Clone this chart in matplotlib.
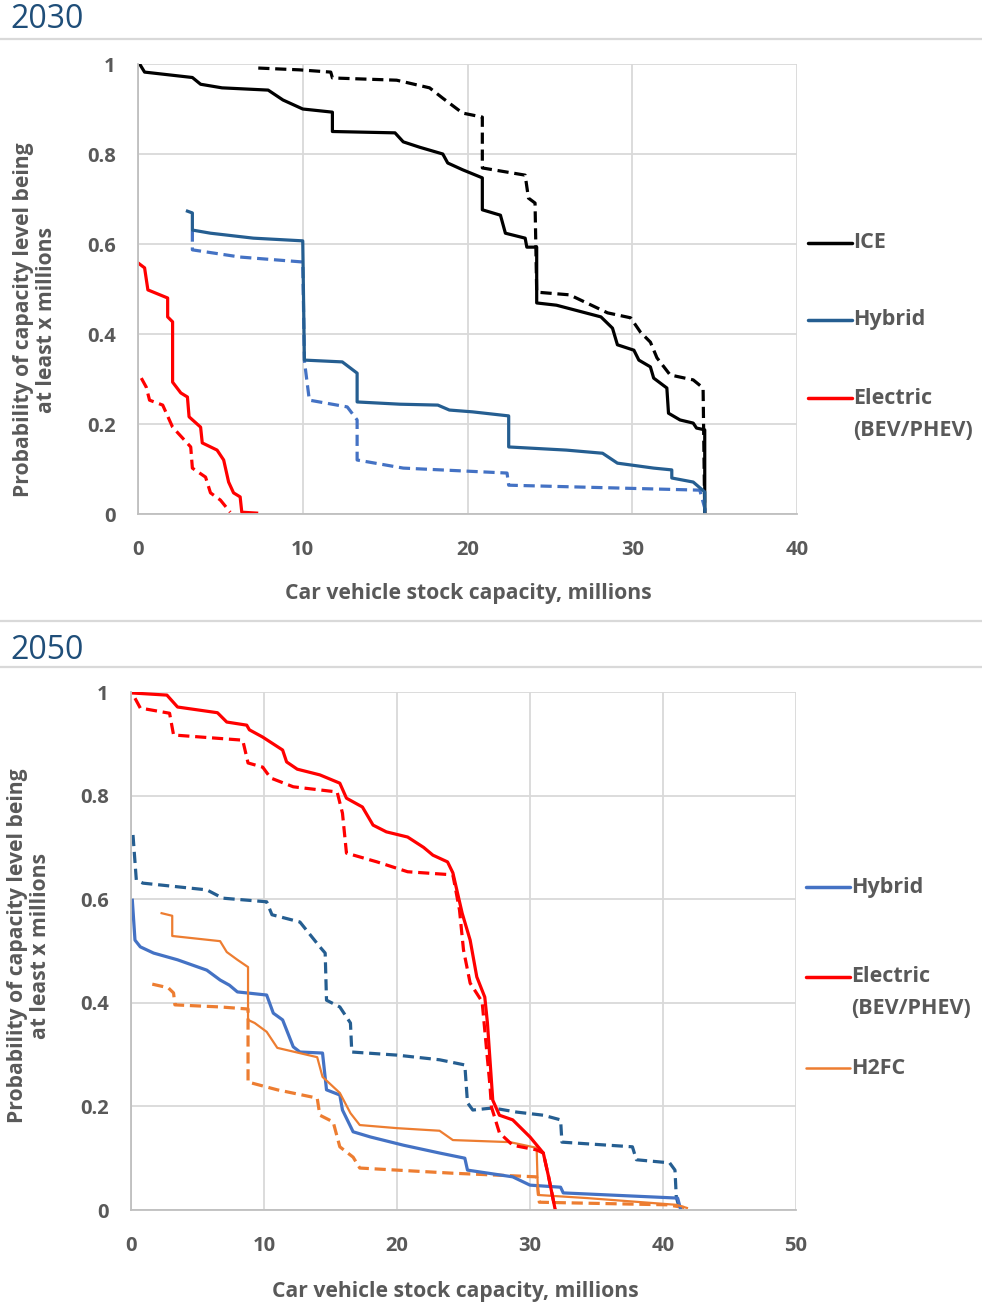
import matplotlib.pyplot as plt
from matplotlib.lines import Line2D

plt.rcParams['font.family'] = ['Open Sans', 'DejaVu Sans']

# ---- data (x in millions, y probability) ----
# 2030
ice_x = [0.1, 0.4, 3.3, 3.8, 5.1, 7.9, 8.8, 10.0, 11.8, 11.8, 15.6, 16.1, 17.1, 18.5, 18.8, 19.7, 20.9, 20.9,
         22.0, 22.3, 23.5, 23.6, 24.2, 24.2, 25.4, 28.1, 28.8, 29.1, 30.1, 30.4, 31.1, 31.3, 32.1, 32.2, 32.9,
         33.7, 33.9, 34.4, 34.4]
ice_y = [1.0, 0.982, 0.97, 0.955, 0.947, 0.942, 0.92, 0.90, 0.893, 0.85, 0.847, 0.827, 0.815, 0.80, 0.78, 0.765,
         0.747, 0.676, 0.664, 0.624, 0.613, 0.593, 0.593, 0.469, 0.464, 0.438, 0.413, 0.376, 0.364, 0.342, 0.327,
         0.302, 0.28, 0.224, 0.209, 0.202, 0.191, 0.187, 0.0]
ice_d_x = [7.3, 9.8, 11.7, 11.8, 15.7, 17.7, 18.5, 19.7, 20.9, 20.9, 23.5, 23.7, 24.1, 24.2, 26.2, 28.5, 29.9,
           30.5, 31.1, 31.5, 32.3, 33.7, 34.3, 34.4]
ice_d_y = [0.991, 0.987, 0.982, 0.969, 0.964, 0.947, 0.924, 0.891, 0.882, 0.769, 0.753, 0.702, 0.691, 0.493,
           0.487, 0.447, 0.436, 0.404, 0.382, 0.347, 0.309, 0.298, 0.28, 0.0]
hyb30_x = [3.0, 3.3, 3.3, 4.4, 7.0, 10.0, 10.1, 12.4, 13.3, 13.3, 15.9, 18.2, 18.9, 20.3, 22.5, 22.5, 26.0, 28.2,
           29.1, 31.3, 32.4, 32.4, 33.7, 34.4, 34.4]
hyb30_y = [0.673, 0.669, 0.631, 0.624, 0.613, 0.607, 0.342, 0.338, 0.313, 0.249, 0.244, 0.242, 0.231, 0.227,
           0.218, 0.149, 0.142, 0.135, 0.113, 0.102, 0.098, 0.08, 0.071, 0.049, 0.0]
hyb30_d_x = [3.3, 3.3, 6.2, 10.0, 10.1, 10.4, 12.7, 13.3, 13.3, 16.1, 22.4, 22.5, 34.1, 34.5]
hyb30_d_y = [0.63, 0.587, 0.571, 0.56, 0.34, 0.253, 0.238, 0.209, 0.12, 0.102, 0.091, 0.064, 0.053, 0.0]
ele30_x = [0.0, 0.4, 0.6, 1.8, 1.8, 2.1, 2.1, 2.6, 3.0, 3.1, 3.8, 3.9, 4.8, 5.2, 5.5, 5.8, 6.2, 6.3, 7.2]
ele30_y = [0.558, 0.547, 0.498, 0.48, 0.438, 0.427, 0.293, 0.269, 0.26, 0.216, 0.193, 0.158, 0.142, 0.12,
           0.071, 0.047, 0.038, 0.004, 0.002]
ele30_d_x = [0.2, 0.5, 0.7, 1.5, 2.1, 3.2, 3.3, 4.1, 4.4, 5.0, 5.6]
ele30_d_y = [0.302, 0.282, 0.253, 0.242, 0.193, 0.149, 0.102, 0.082, 0.047, 0.031, 0.004]

# 2050
ele50_x = [0.15, 2.7, 3.5, 6.5, 7.2, 8.7, 8.9, 9.9, 11.4, 11.7, 12.5, 14.2, 15.7, 16.2, 17.4, 18.2, 19.2, 20.8,
           22.0, 22.7, 23.8, 24.2, 24.9, 25.5, 26.0, 26.6, 26.8, 27.2, 27.7, 28.7, 30.0, 31.0, 31.4, 31.9]
ele50_y = [0.998, 0.994, 0.971, 0.96, 0.942, 0.936, 0.927, 0.913, 0.888, 0.865, 0.851, 0.84, 0.824, 0.795,
           0.778, 0.743, 0.73, 0.72, 0.70, 0.685, 0.672, 0.651, 0.573, 0.521, 0.45, 0.411, 0.361, 0.212, 0.183,
           0.174, 0.141, 0.11, 0.064, 0.0]
ele50_d_x = [0.3, 0.7, 2.9, 3.2, 8.4, 8.8, 9.9, 10.5, 12.2, 15.5, 15.9, 16.2, 18.5, 20.8, 24.2, 24.7, 25.0, 25.5,
             26.4, 27.0, 27.1, 27.7, 28.7, 30.5, 31.0, 31.4, 31.9]
ele50_d_y = [0.988, 0.969, 0.959, 0.917, 0.907, 0.863, 0.855, 0.834, 0.817, 0.807, 0.766, 0.689, 0.672, 0.653,
             0.647, 0.579, 0.502, 0.438, 0.402, 0.237, 0.199, 0.149, 0.125, 0.116, 0.11, 0.064, 0.0]
hyb50_x = [0.1, 0.3, 0.7, 1.7, 3.5, 5.7, 6.7, 7.4, 8.0, 10.2, 10.7, 11.4, 12.2, 12.7, 14.4, 14.7, 15.7, 15.9,
           16.7, 18.0, 20.5, 23.2, 25.1, 25.3, 28.7, 30.0, 32.3, 32.5, 41.1, 41.3]
hyb50_y = [0.598, 0.521, 0.508, 0.496, 0.483, 0.463, 0.444, 0.434, 0.421, 0.415, 0.38, 0.367, 0.315, 0.305,
           0.303, 0.232, 0.222, 0.193, 0.151, 0.141, 0.125, 0.11, 0.10, 0.077, 0.064, 0.048, 0.044, 0.033,
           0.023, 0.004]
hyb50_d_x = [0.15, 0.4, 0.9, 5.7, 6.9, 10.2, 10.6, 12.7, 14.2, 14.6, 14.7, 15.7, 16.5, 16.6, 20.0, 23.2, 25.1,
             25.3, 25.7, 27.2, 29.0, 31.0, 32.3, 32.4, 37.7, 38.0, 40.5, 40.9, 41.0, 41.2]
hyb50_d_y = [0.724, 0.637, 0.631, 0.618, 0.602, 0.595, 0.57, 0.556, 0.508, 0.496, 0.405, 0.392, 0.361, 0.305,
             0.299, 0.29, 0.28, 0.207, 0.193, 0.197, 0.189, 0.183, 0.174, 0.131, 0.122, 0.097, 0.091, 0.077,
             0.025, 0.006]
h2_x = [2.3, 3.1, 3.1, 6.7, 7.2, 8.0, 8.8, 8.8, 9.3, 10.2, 11.0, 14.0, 14.4, 15.7, 16.5, 17.2, 20.0, 23.2, 24.2,
        28.5, 30.5, 30.6, 34.3, 41.0, 41.8]
h2_y = [0.573, 0.568, 0.529, 0.519, 0.498, 0.483, 0.469, 0.367, 0.361, 0.344, 0.313, 0.295, 0.257, 0.226, 0.187,
        0.164, 0.158, 0.153, 0.135, 0.131, 0.12, 0.029, 0.023, 0.01, 0.004]
h2_d_x = [1.6, 2.8, 3.2, 3.3, 6.7, 8.8, 8.8, 11.0, 14.0, 14.2, 15.2, 15.7, 16.7, 17.2, 24.2, 30.5, 30.7, 40.3, 41.8]
h2_d_y = [0.436, 0.429, 0.419, 0.396, 0.392, 0.388, 0.247, 0.232, 0.216, 0.183, 0.17, 0.122, 0.102, 0.081,
          0.071, 0.064, 0.015, 0.01, 0.004]

y_ticks = [0, 0.2, 0.4, 0.6, 0.8, 1]
y_labels = ['0', '0.2', '0.4', '0.6', '0.8', '1']

BLACK = '#000000'
DBLUE = '#255E91'
LBLUE = '#4472C4'
RED = '#FF0000'
ORANGE = '#ED7D31'
TXT = '#595959'
GRID = '#D9D9D9'
DASH = (0, (3.5, 1.8))
LBL = 15.2
LEG = 15.5

W, H = 982, 1316
fig = plt.figure(figsize=(W / 100, H / 100), dpi=100)


def fx(px):
    return px / W


def fy(py):
    return 1 - py / H


def style_axes(ax, xmax):
    ax.set_xlim(0, xmax)
    ax.set_ylim(0, 1)
    ax.set_xticks(range(0, xmax + 1, 10))
    ax.set_yticks(y_ticks)
    ax.set_yticklabels(y_labels)
    ax.grid(True, color=GRID, lw=1.3)
    ax.set_axisbelow(True)
    for s in ['top', 'right']:
        ax.spines[s].set_visible(False)
    for s in ['left', 'bottom']:
        ax.spines[s].set_color('#BFBFBF')
        ax.spines[s].set_linewidth(1.3)
    ax.tick_params(length=0, labelsize=14.5, labelcolor=TXT)
    ax.tick_params(axis='x', pad=19)
    ax.tick_params(axis='y', pad=16)
    for t in ax.get_xticklabels() + ax.get_yticklabels():
        t.set_fontweight('bold')


def legend(items, x0, x1, ys):
    for (lab, col, lw), y in zip(items, ys):
        fig.add_artist(Line2D([fx(x0), fx(x1)], [fy(y), fy(y)], color=col, lw=lw,
                              solid_capstyle='round'))
        for i, part in enumerate(lab.split('\n')):
            fig.text(fx(x1 + 1), fy(y + 32 * i), part, color=TXT, fontsize=LEG, fontweight='bold',
                     va='center', ha='left')


def header(txt, y_text, y_line, y_top=None):
    fig.text(fx(10), fy(y_text), txt, color='#1F4E79', fontsize=23, va='center', ha='left')
    fig.add_artist(Line2D([0, 1], [fy(y_line), fy(y_line)], color=GRID, lw=1.6))
    if y_top is not None:
        fig.add_artist(Line2D([0, 1], [fy(y_top), fy(y_top)], color=GRID, lw=1.6))


# ---- 2030 ----
ax1 = fig.add_axes([fx(138), fy(514), fx(797 - 138), (514 - 64) / H])
style_axes(ax1, 40)
ax1.plot(ice_d_x, ice_d_y, color=BLACK, lw=2.3, ls=DASH)
ax1.plot(ice_x, ice_y, color=BLACK, lw=2.3)
ax1.plot(hyb30_d_x, hyb30_d_y, color=LBLUE, lw=2.3, ls=DASH)
ax1.plot(hyb30_x, hyb30_y, color=DBLUE, lw=2.3)
ax1.plot(ele30_d_x, ele30_d_y, color=RED, lw=2.3, ls=DASH)
ax1.plot(ele30_x, ele30_y, color=RED, lw=2.3)

header('2030', 19, 39)
legend([('ICE', BLACK, 2.5), ('Hybrid', DBLUE, 2.5), ('Electric\n(BEV/PHEV)', RED, 2.5)],
       808, 852, [243, 320, 398])
fig.text(fx(468), fy(593), 'Car vehicle stock capacity, millions', color=TXT, fontsize=LBL,
         fontweight='bold', ha='center', va='center')
fig.text(fx(35), fy(320), 'Probability of capacity level being\nat least x millions', color=TXT,
         fontsize=LBL, fontweight='bold', ha='center', va='center', rotation=90,
         multialignment='center', linespacing=1.15)

# ---- 2050 ----
ax2 = fig.add_axes([fx(131), fy(1210), fx(796 - 131), (1210 - 692) / H])
style_axes(ax2, 50)
ax2.plot(hyb50_d_x, hyb50_d_y, color=DBLUE, lw=2.3, ls=DASH)
ax2.plot(h2_d_x, h2_d_y, color=ORANGE, lw=2.3, ls=DASH)
ax2.plot(hyb50_x, hyb50_y, color=LBLUE, lw=2.3)
ax2.plot(h2_x, h2_y, color=ORANGE, lw=1.6)
ax2.plot(ele50_d_x, ele50_d_y, color=RED, lw=2.3, ls=DASH)
ax2.plot(ele50_x, ele50_y, color=RED, lw=2.3)

header('2050', 650, 667, 621)
legend([('Hybrid', LBLUE, 2.5), ('Electric\n(BEV/PHEV)', RED, 2.5), ('H2FC', ORANGE, 1.8)],
       806, 850, [887, 977, 1068])
fig.text(fx(455), fy(1291), 'Car vehicle stock capacity, millions', color=TXT, fontsize=LBL,
         fontweight='bold', ha='center', va='center')
fig.text(fx(29), fy(946), 'Probability of capacity level being\nat least x millions', color=TXT,
         fontsize=LBL, fontweight='bold', ha='center', va='center', rotation=90,
         multialignment='center', linespacing=1.15)

fig.savefig('out.png', dpi=100)
